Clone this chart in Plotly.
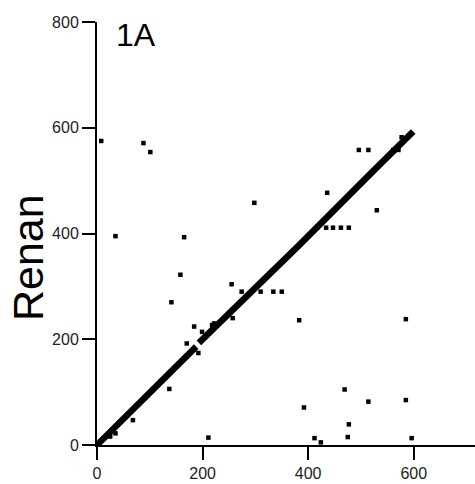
import plotly.graph_objects as go

# Main collinear block (two runs with a short break near 190)
diag1_x = [0, 60, 120, 183, 188]
diag1_y = [0, 59, 118, 181, 186]
diag2_x = [193, 296, 383, 523, 599]
diag2_y = [193, 292, 378, 518, 593]

# Individual hits away from (or sitting on) the main diagonal
hit_x = [8, 88, 101, 35, 165, 158, 141, 184, 255, 274, 310, 334, 350, 383,
         585, 392, 469, 514, 585, 477, 412, 424, 475, 596, 211, 68, 137, 35,
         25, 298, 436, 496, 514, 530, 434, 447, 462, 477, 561, 571, 577, 417,
         222, 257, 170, 192, 199, 218]
hit_y = [575, 571, 554, 395, 393, 322, 270, 224, 304, 290, 290, 290, 290, 236,
         238, 71, 105, 82, 85, 39, 13, 5, 15, 13, 14, 47, 106, 22,
         16, 458, 477, 558, 558, 444, 411, 411, 411, 411, 558, 558, 582, 411,
         230, 240, 192, 174, 214, 227]

x_ticks = [0, 200, 400, 600]
y_ticks = [0, 200, 400, 600, 800]

fig = go.Figure()
for dx, dy in ((diag1_x, diag1_y), (diag2_x, diag2_y)):
    fig.add_trace(go.Scatter(x=dx, y=dy, mode="lines",
                             line=dict(color="black", width=6.5),
                             hoverinfo="skip", showlegend=False))
fig.add_trace(go.Scatter(x=hit_x, y=hit_y, mode="markers",
                         marker=dict(symbol="square", size=4.5, color="black",
                                     line=dict(width=0)),
                         showlegend=False))

axis_common = dict(showline=True, linewidth=2, linecolor="black",
                   ticks="outside", ticklen=13, tickwidth=2, tickcolor="black",
                   showgrid=False, zeroline=False,
                   tickfont=dict(family="Liberation Sans, Arial", size=16,
                                 color="#222222"))

fig.update_xaxes(range=[0, 716], tickvals=x_ticks, **axis_common)
fig.update_yaxes(range=[0, 800], tickvals=y_ticks, **axis_common)

fig.add_annotation(text="1A", xref="x", yref="y", x=33, y=776,
                   xanchor="left", yanchor="middle", showarrow=False,
                   font=dict(family="Liberation Sans, Arial", size=32,
                             color="black"))
fig.add_annotation(text="Renan", xref="paper", yref="paper",
                   x=-0.1825, y=0.442, textangle=-90,
                   xanchor="center", yanchor="middle", showarrow=False,
                   font=dict(family="Liberation Sans, Arial", size=43,
                             color="black"))

fig.update_layout(width=475, height=484,
                  margin=dict(l=97, r=0, t=22, b=39),
                  plot_bgcolor="white", paper_bgcolor="white")

fig.write_html("out.html")
